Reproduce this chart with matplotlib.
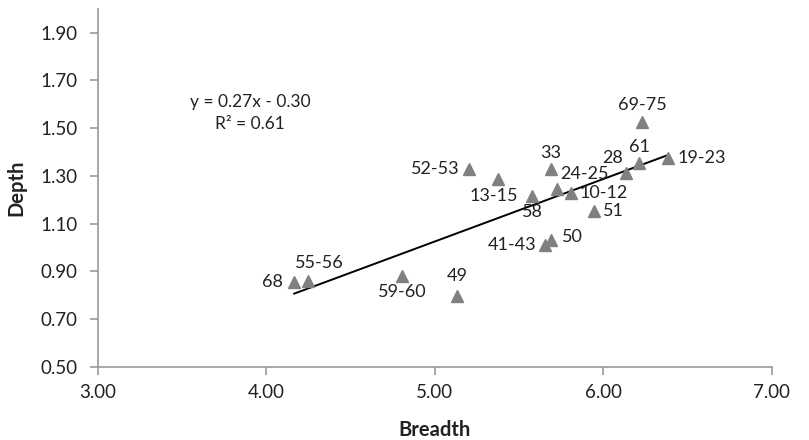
import matplotlib
matplotlib.use("Agg")
import matplotlib.pyplot as plt
import numpy as np

plt.rcParams['font.family'] = ['Lato', 'DejaVu Sans']

# breadth / depth per sample
labels = ['68', '55-56', '59-60', '49', '41-43', '50', '69-75', '61', '19-23',
          '28', '33', '52-53', '13-15', '58', '24-25', '10-12', '51']
breadth = [4.166, 4.249, 4.807, 5.133, 5.653, 5.689, 6.230, 6.212, 6.384,
           6.137, 5.689, 5.204, 5.376, 5.580, 5.726, 5.807, 5.946]
depth = [0.854, 0.859, 0.880, 0.796, 1.010, 1.031, 1.527, 1.352, 1.373,
         1.311, 1.328, 1.328, 1.285, 1.215, 1.243, 1.229, 1.153]

# where each data label sits relative to its marker (offset points, ha, va)
label_pos = {
    '68': (-8, 0, 'right', 'center'),
    '55-56': (8, 7, 'center', 'bottom'),
    '59-60': (0, -6, 'center', 'top'),
    '49': (0, 9, 'center', 'bottom'),
    '41-43': (-6, 0, 'right', 'center'),
    '50': (8, 2, 'left', 'center'),
    '69-75': (0, 6, 'center', 'bottom'),
    '61': (0, 6, 'center', 'bottom'),
    '19-23': (7, 0, 'left', 'center'),
    '28': (-10, 5, 'center', 'bottom'),
    '33': (0, 6, 'center', 'bottom'),
    '52-53': (-7, 0, 'right', 'center'),
    '13-15': (-3, -6, 'center', 'top'),
    '58': (0, -6, 'center', 'top'),
    '24-25': (20, 5, 'center', 'bottom'),
    '10-12': (6, 0, 'left', 'center'),
    '51': (6, 0, 'left', 'center'),
}

fig = plt.figure(figsize=(8.09, 4.40), dpi=100)
ax = fig.add_axes([0.1208, 0.1666, 0.8332, 0.8134])

ax.plot(breadth, depth, linestyle='none', marker='^', markersize=9,
        color='#808080', zorder=3)

# linear trendline
coef = np.polyfit(breadth, depth, 1)
xs = np.array([min(breadth), max(breadth)])
ax.plot(xs, np.polyval(coef, xs), color='black', linewidth=1.4, zorder=2)

for name, x, y in zip(labels, breadth, depth):
    dx, dy, ha, va = label_pos[name]
    ax.annotate(name, (x, y), xytext=(dx, dy), textcoords='offset points',
                ha=ha, va=va, fontsize=13, color='#222222')

ax.text(3.903, 1.563, 'y = 0.27x - 0.30\nR² = 0.61', ha='center', va='center',
        fontsize=12.5, color='#222222', linespacing=1.45)

ax.set_xlim(3.0, 7.0)
ax.set_ylim(0.5, 2.0)
ax.set_xticks(np.arange(3.0, 7.01, 1.0))
ax.set_yticks(np.arange(0.5, 1.91, 0.2))
ax.xaxis.set_major_formatter(matplotlib.ticker.FormatStrFormatter('%.2f'))
ax.yaxis.set_major_formatter(matplotlib.ticker.FormatStrFormatter('%.2f'))

for s in ['top', 'right']:
    ax.spines[s].set_visible(False)
for s in ['left', 'bottom']:
    ax.spines[s].set_color('#999999')
    ax.spines[s].set_linewidth(1.2)
ax.tick_params(colors='#999999', labelcolor='#222222', labelsize=13.5,
               length=5.5, width=1.2)
ax.tick_params(axis='y', pad=9)
ax.tick_params(axis='x', pad=7)

ax.set_xlabel('Breadth', fontsize=14.5, fontweight='bold', color='#222222')
ax.set_ylabel('Depth', fontsize=14.5, fontweight='bold', color='#222222')
ax.xaxis.label.set_va('center')
ax.yaxis.label.set_va('center')
ax.xaxis.set_label_coords(0.5, -0.177)
ax.yaxis.set_label_coords(-0.12, 0.5)

fig.savefig('out.png', dpi=100)
